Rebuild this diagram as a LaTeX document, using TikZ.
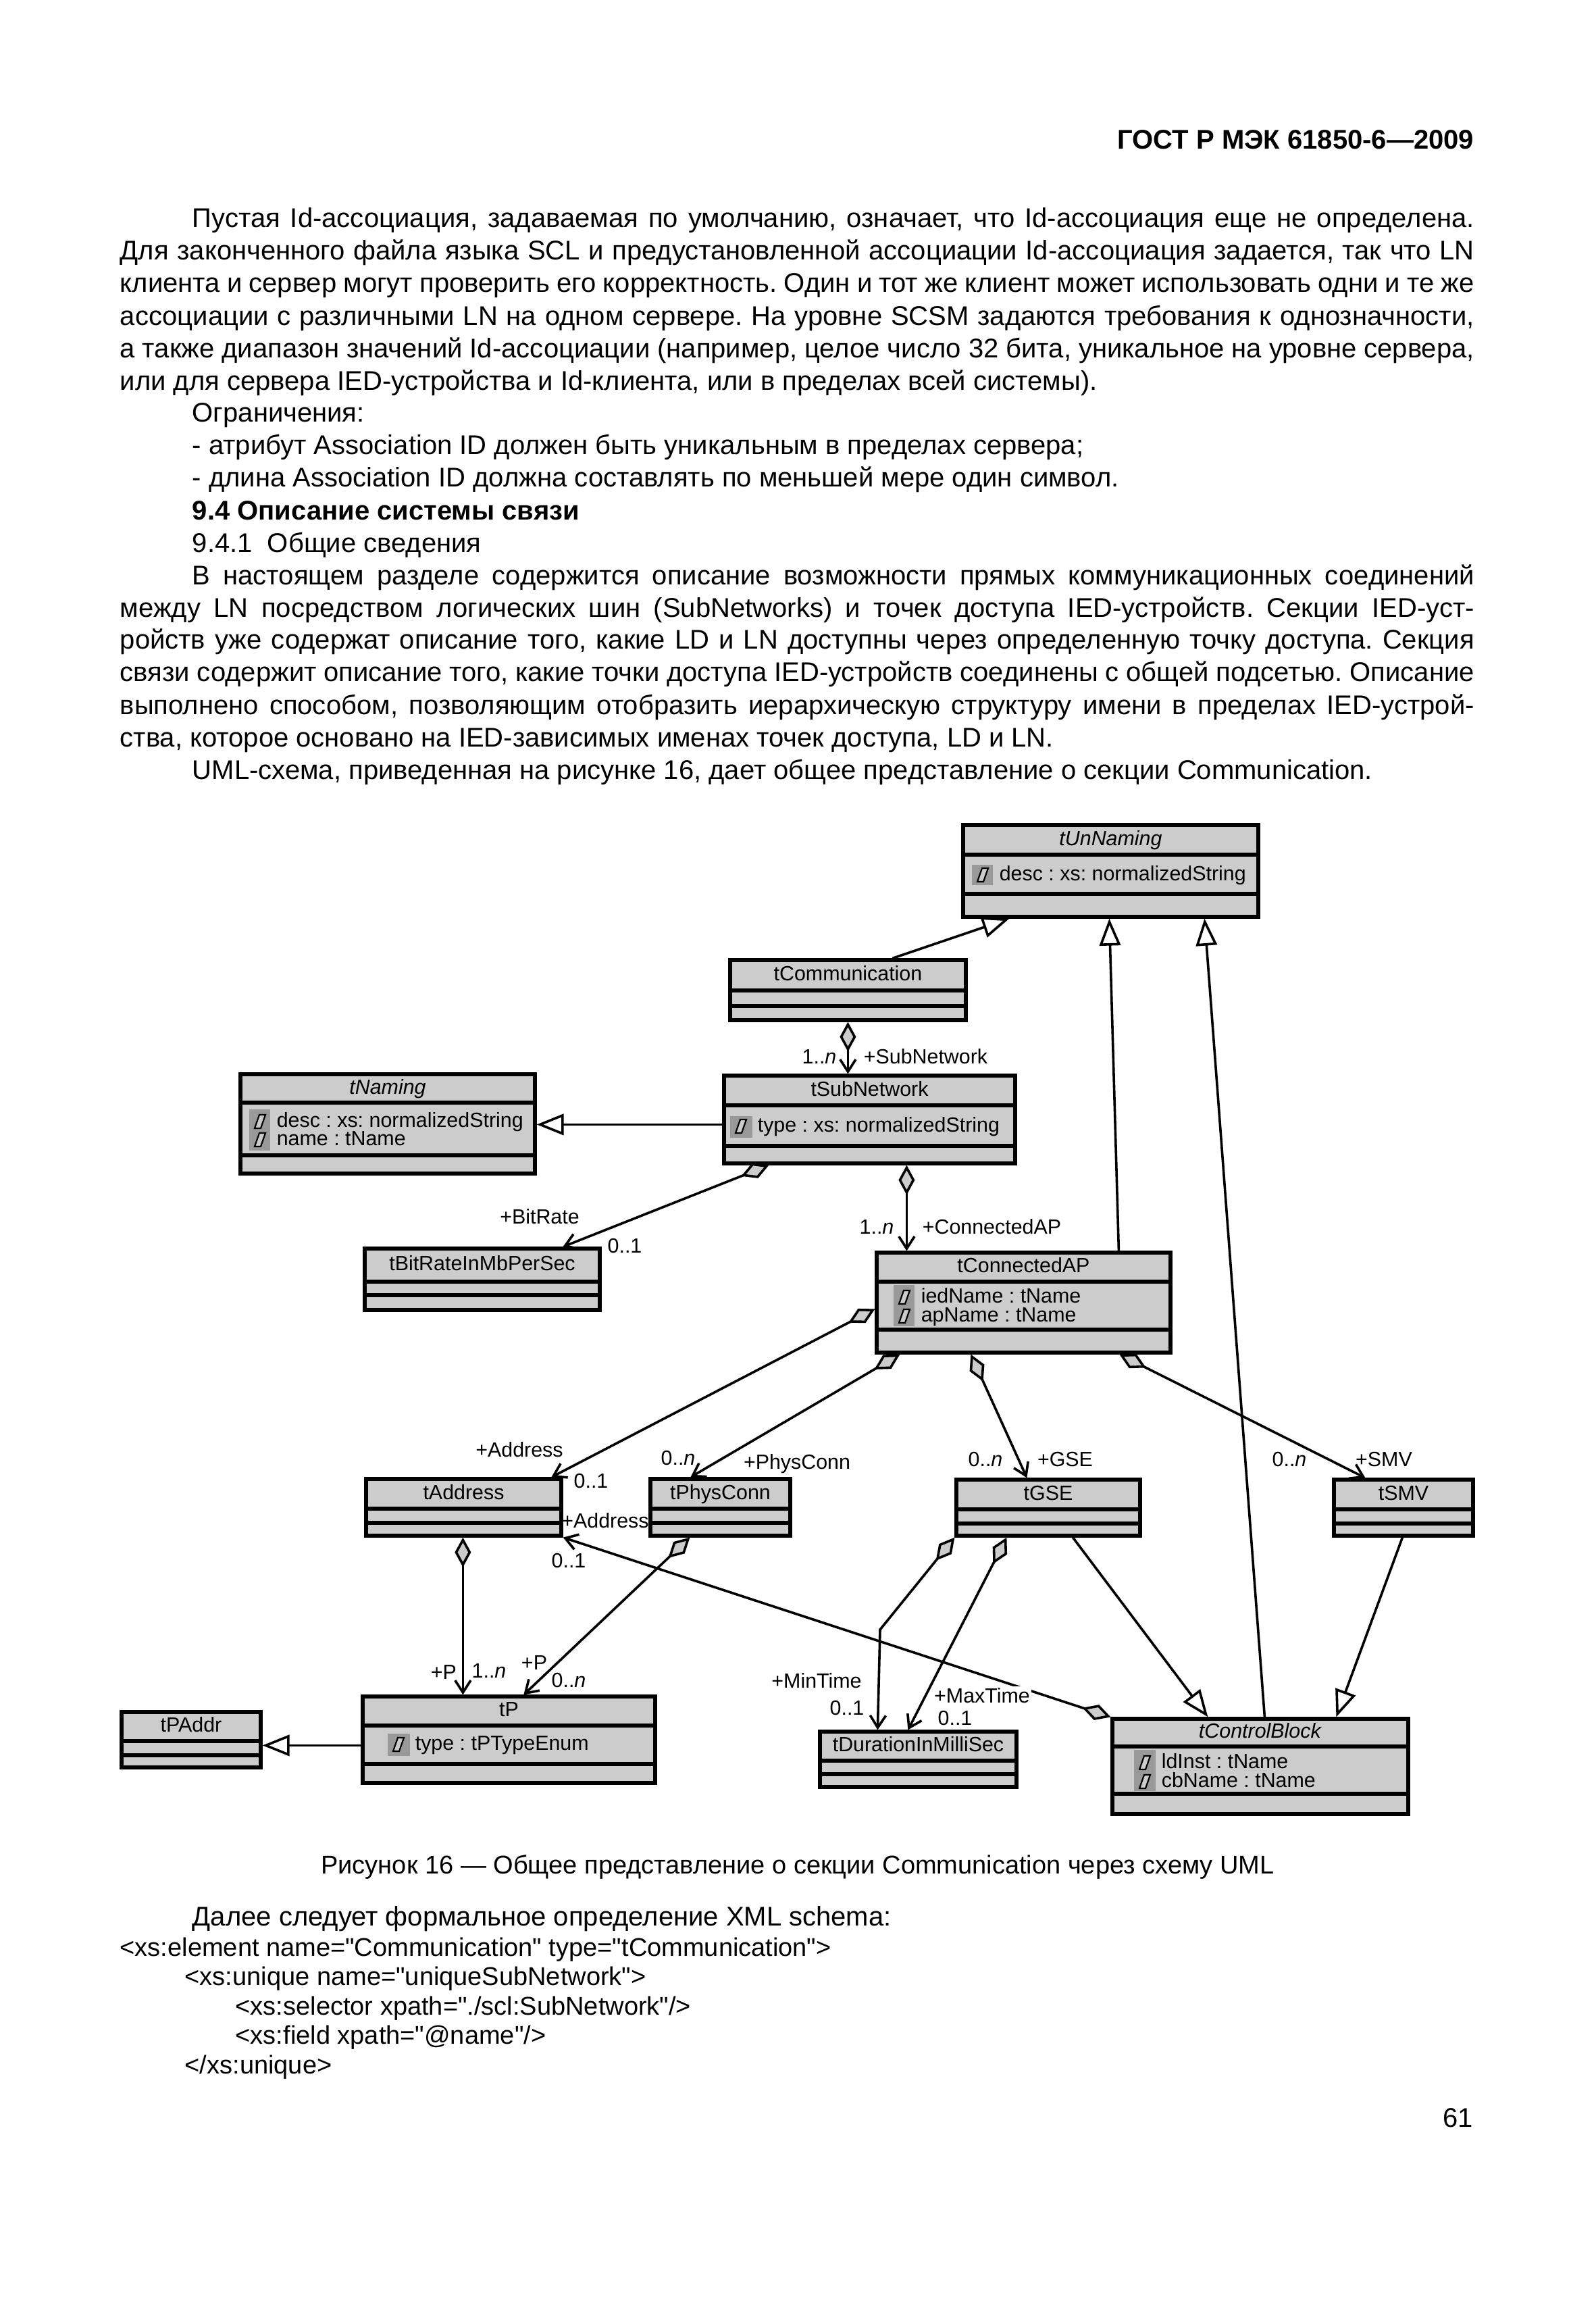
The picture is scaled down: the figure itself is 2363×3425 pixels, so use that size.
\documentclass[tikz,border=0pt]{standalone}
\usepackage{fontspec}
\setmainfont{Liberation Sans}
\newfontfamily\plainsans[Ligatures=TeXOff]{Liberation Sans}
\usetikzlibrary{arrows.meta,calc,fit}
\definecolor{boxgray}{HTML}{CCCCCC}
\definecolor{icongray}{HTML}{999999}
\newcommand{\umlfont}{\fontsize{7.6}{9}\selectfont}
\newcommand{\jl}[1]{\hbox to\hsize{\spaceskip=0.278em plus 0.8em minus 0.12em\relax #1}}
\newcommand{\rl}[1]{\hbox to\hsize{#1\hfil}}
\newcommand{\ind}{\hskip 26.75pt\relax}
\frenchspacing
\tikzset{
  clsbox/.style={draw, fill=boxgray, line width=1.3pt, inner sep=0pt},
  clsline/.style={line width=1.3pt},
  clsname/.style={font=\umlfont, inner sep=0pt, text height=5.6pt, text depth=1.6pt},
  attrtext/.style={font=\umlfont, anchor=west, inner sep=0pt, text height=5.6pt, text depth=1.6pt},
  glyph/.style={draw=black, fill=boxgray, line width=0.55pt},
  lbl/.style={font=\umlfont, inner sep=0.5pt, text height=5.6pt, text depth=1.6pt},
  aggr/.style={line width=0.9pt, arrows={Diamond[length=11pt,width=6pt,fill=boxgray]-Straight Barb[length=4.5pt,width=5.8pt]}},
  gen/.style={line width=0.9pt, arrows={-Triangle[length=10pt,width=7.8pt,fill=white]}}
}
\newcommand{\umlclass}[8]{%
  \node[clsbox, fit={(#2,#3) (#4,#5)}] (#1) {};
  \draw[clsline] (#2,#6) -- (#4,#6) (#2,#7) -- (#4,#7);
  \node[clsname] (#1-name) at ({(#2+#4)/2},{(#3+#6)/2}) {#8};
}
\newcommand{\attr}[4]{%
  \draw[glyph] ({#2+8},{#3+10}) -- ({#2+17},{#3+10}) -- ({#2+24},{#3-10}) -- ({#2+15},{#3-10}) -- cycle;
  \node[attrtext] (#1) at ({#2+40},#3) {#4};
}
\begin{document}
\begin{tikzpicture}[x=0.25pt, y=-0.25pt]
\useasboundingbox (0,0) rectangle (2363,3425);
\fill[white] (0,0) rectangle (2363,3425);

\node[anchor=base east, inner sep=0pt, font=\fontsize{10}{12}\selectfont\bfseries] (hdr) at (2183,221) {ГОСТ Р МЭК 61850-6—2009};

\node[anchor=base west, inner sep=0pt, font=\fontsize{10}{12}\selectfont] (body) at (177,337) {\vtop{\hsize=501.25pt \baselineskip=12pt \lineskiplimit=-20pt
\jl{\ind Пустая Id-ассоциация, задаваемая по умолчанию, означает, что Id-ассоциация еще не определена.}
\jl{Для законченного файла языка SCL и предустановленной ассоциации Id-ассоциация задается, так что LN}
\jl{клиента и сервер могут проверить его корректность. Один и тот же клиент может использовать одни и те же}
\jl{ассоциации с различными LN на одном сервере. На уровне SCSM задаются требования к однозначности,}
\jl{а также диапазон значений Id-ассоциации (например, целое число 32 бита, уникальное на уровне сервера,}
\rl{или для сервера IED-устройства и Id-клиента, или в пределах всей системы).}
\rl{\ind Ограничения:}
\rl{\ind - атрибут Association ID должен быть уникальным в пределах сервера;}
\rl{\ind - длина Association ID должна составлять по меньшей мере один символ.}
\rl{\ind\textbf{9.4 Описание системы связи}}
\rl{\ind 9.4.1\ \ Общие сведения}
\jl{\ind В настоящем разделе содержится описание возможности прямых коммуникационных соединений}
\jl{между LN посредством логических шин (SubNetworks) и точек доступа IED-устройств. Секции IED-уст-}
\jl{ройств уже содержат описание того, какие LD и LN доступны через определенную точку доступа. Секция}
\jl{связи содержит описание того, какие точки доступа IED-устройств соединены с общей подсетью. Описание}
\jl{выполнено способом, позволяющим отобразить иерархическую структуру имени в пределах IED-устрой-}
\rl{ства, которое основано на IED-зависимых именах точек доступа, LD и LN.}
\rl{\ind UML-схема, приведенная на рисунке 16, дает общее представление о секции Communication.}
}};

\umlclass{tUnNaming}{1426}{1221}{1863}{1357}{1265}{1323}{\textit{tUnNaming}}
\umlclass{tComm}{1081}{1421}{1430}{1510}{1466}{1489}{tCommunication}
\umlclass{tNaming}{356}{1590}{792}{1737}{1632}{1710}{\textit{tNaming}}
\umlclass{tSubNet}{1072}{1592}{1503}{1722}{1636}{1696}{tSubNetwork}
\umlclass{tBitRate}{540}{1848}{888}{1939}{1897}{1917}{tBitRateInMbPerSec}
\umlclass{tConnAP}{1298}{1854}{1733}{2002}{1897}{1968}{tConnectedAP}
\umlclass{tAddress}{542}{2189}{831}{2273}{2233}{2254}{tAddress}
\umlclass{tPhys}{963}{2189}{1170}{2273}{2233}{2254}{tPhysConn}
\umlclass{tGSE}{1416}{2190}{1688}{2273}{2234}{2255}{tGSE}
\umlclass{tSMV}{1975}{2190}{2181}{2273}{2234}{2255}{tSMV}
\umlclass{tP}{537}{2511}{970}{2639}{2554}{2611}{tP}
\umlclass{tPAddr}{180}{2534}{386}{2616}{2577}{2598}{tPAddr}
\umlclass{tDur}{1214}{2563}{1505}{2645}{2606}{2626}{tDurationInMilliSec}
\umlclass{tCB}{1647}{2544}{2085}{2685}{2585}{2655}{\textit{tControlBlock}}

\fill[icongray] (1439,1280) rectangle (1470,1310);
\attr{unn-desc}{1439}{1295}{desc : xs: normalizedString}
\fill[icongray] (369,1642) rectangle (400,1703);
\attr{nam-desc}{369}{1660}{desc : xs: normalizedString}
\attr{nam-name}{369}{1687}{name : tName}
\fill[icongray] (1081,1652) rectangle (1114,1684);
\attr{sub-type}{1081}{1667}{type : xs: normalizedString}
\fill[icongray] (1323,1902) rectangle (1354,1963);
\attr{cap-ied}{1323}{1920}{iedName : tName}
\attr{cap-ap}{1323}{1948}{apName : tName}
\fill[icongray] (574,2566) rectangle (607,2599);
\attr{p-type}{574}{2582}{type : tPTypeEnum}
\fill[icongray] (1679,2590) rectangle (1711,2651);
\attr{cb-ld}{1679}{2609}{ldInst : tName}
\attr{cb-name}{1679}{2637}{cbName : tName}

\draw[aggr] (tCB.north west) -- (tAddress.south east);
\node[lbl, fill=white] (r-max) at (1454,2512) {+MaxTime};

\draw[gen] ($(tComm.north west)+(243,0)$) -- ($(tUnNaming.south west)+(71,0)$);
\draw[gen] ($(tConnAP.north west)+(361,0)$) -- ($(tUnNaming.south west)+(219,0)$);
\draw[gen] ($(tCB.north west)+(228,0)$) -- ($(tUnNaming.south west)+(360,0)$);
\draw[gen] ($(tSubNet.north west)+(0,75)$) -- ($(tNaming.north east)+(0,77)$);
\draw[gen] ($(tGSE.south west)+(175,0)$) -- ($(tCB.north west)+(144,0)$);
\draw[gen] ($(tSMV.south west)+(104,0)$) -- ($(tCB.north west)+(334,0)$);
\draw[gen] ($(tP.north west)+(0,75)$) -- ($(tPAddr.north east)+(0,52)$);

\draw[aggr] ($(tComm.south west)+(177,0)$) -- ($(tSubNet.north west)+(186,0)$);
\draw[aggr] ($(tSubNet.south west)+(69,0)$) -- ($(tBitRate.north west)+(296,0)$);
\draw[aggr] ($(tSubNet.south west)+(273,0)$) -- ($(tConnAP.north west)+(47,0)$);
\draw[aggr] ($(tConnAP.north west)+(0,86)$) -- ($(tAddress.north west)+(277,0)$);
\draw[aggr] ($(tConnAP.south west)+(37,0)$) -- ($(tPhys.north west)+(62,0)$);
\draw[aggr] ($(tConnAP.south west)+(142,0)$) -- ($(tGSE.north west)+(107,0)$);
\draw[aggr] ($(tConnAP.south west)+(362,0)$) -- ($(tSMV.north west)+(49,0)$);
\draw[aggr] ($(tAddress.south west)+(146,0)$) -- ($(tP.north west)+(151,0)$);
\draw[aggr] ($(tPhys.south west)+(61,0)$) -- ($(tP.north west)+(241,0)$);
\coordinate (minbend) at (1303,2412);
\draw[aggr] (tGSE.south west) -- (minbend) -- ($(tDur.north west)+(88,0)$);
\draw[aggr] ($(tGSE.south west)+(77,0)$) -- ($(tDur.north west)+(133,0)$);

\node[lbl] (m-sub) at (1213,1566) {1..\textit{n}};
\node[lbl, anchor=west] (r-sub) at (1276,1566) {+SubNetwork};
\node[lbl] (r-bit) at (799,1803) {+BitRate};
\node[lbl] (m-bit) at (925,1846) {0..1};
\node[lbl] (m-cap) at (1298,1818) {1..\textit{n}};
\node[lbl, anchor=west] (r-cap) at (1363,1818) {+ConnectedAP};
\node[lbl] (r-addr) at (769,2148) {+Address};
\node[lbl] (m-addr) at (875,2194) {0..1};
\node[lbl] (m-phys) at (1004,2160) {0..\textit{n}};
\node[lbl] (r-phys) at (1180,2166) {+PhysConn};
\node[lbl] (m-gse) at (1459,2162) {0..\textit{n}};
\node[lbl] (r-gse) at (1577,2162) {+GSE};
\node[lbl] (m-smv) at (1909,2162) {0..\textit{n}};
\node[lbl] (r-smv) at (2049,2162) {+SMV};
\node[lbl] (r-cbaddr) at (896,2253) {+Address};
\node[lbl] (m-cbaddr) at (842,2312) {0..1};
\node[lbl] (r-p1) at (657,2477) {+P};
\node[lbl] (m-p1) at (724,2475) {1..\textit{n}};
\node[lbl] (r-p2) at (791,2463) {+P};
\node[lbl] (m-p2) at (842,2489) {0..\textit{n}};
\node[lbl] (r-min) at (1209,2490) {+MinTime};
\node[lbl] (m-min) at (1254,2530) {0..1};
\node[lbl] (m-max) at (1414,2545) {0..1};

\node[anchor=base, inner sep=0pt, font=\fontsize{9.5}{11}\selectfont] (cap) at (1181,2773) {Рисунок 16 — Общее представление о секции Communication через схему UML};

\node[anchor=base west, inner sep=0pt, font=\fontsize{10}{12}\selectfont] (next) at (284,2850) {Далее следует формальное определение XML schema:};

\node[anchor=base west, inner sep=0pt, font=\plainsans\fontsize{9.5}{10.9}\selectfont] (code) at (177,2895) {\vtop{\hsize=400pt \baselineskip=10.9pt \lineskiplimit=-20pt
\rl{<xs:element name="Communication" type="tCommunication">}
\rl{\hskip24pt <xs:unique name="uniqueSubNetwork">}
\rl{\hskip42.75pt <xs:selector xpath="./scl:SubNetwork"/>}
\rl{\hskip42.75pt <xs:field xpath="@name"/>}
\rl{\hskip24pt </xs:unique>}
}};

\node[anchor=base east, inner sep=0pt, font=\fontsize{10}{12}\selectfont] (pg) at (2182,3148) {61};
\end{tikzpicture}
\end{document}
